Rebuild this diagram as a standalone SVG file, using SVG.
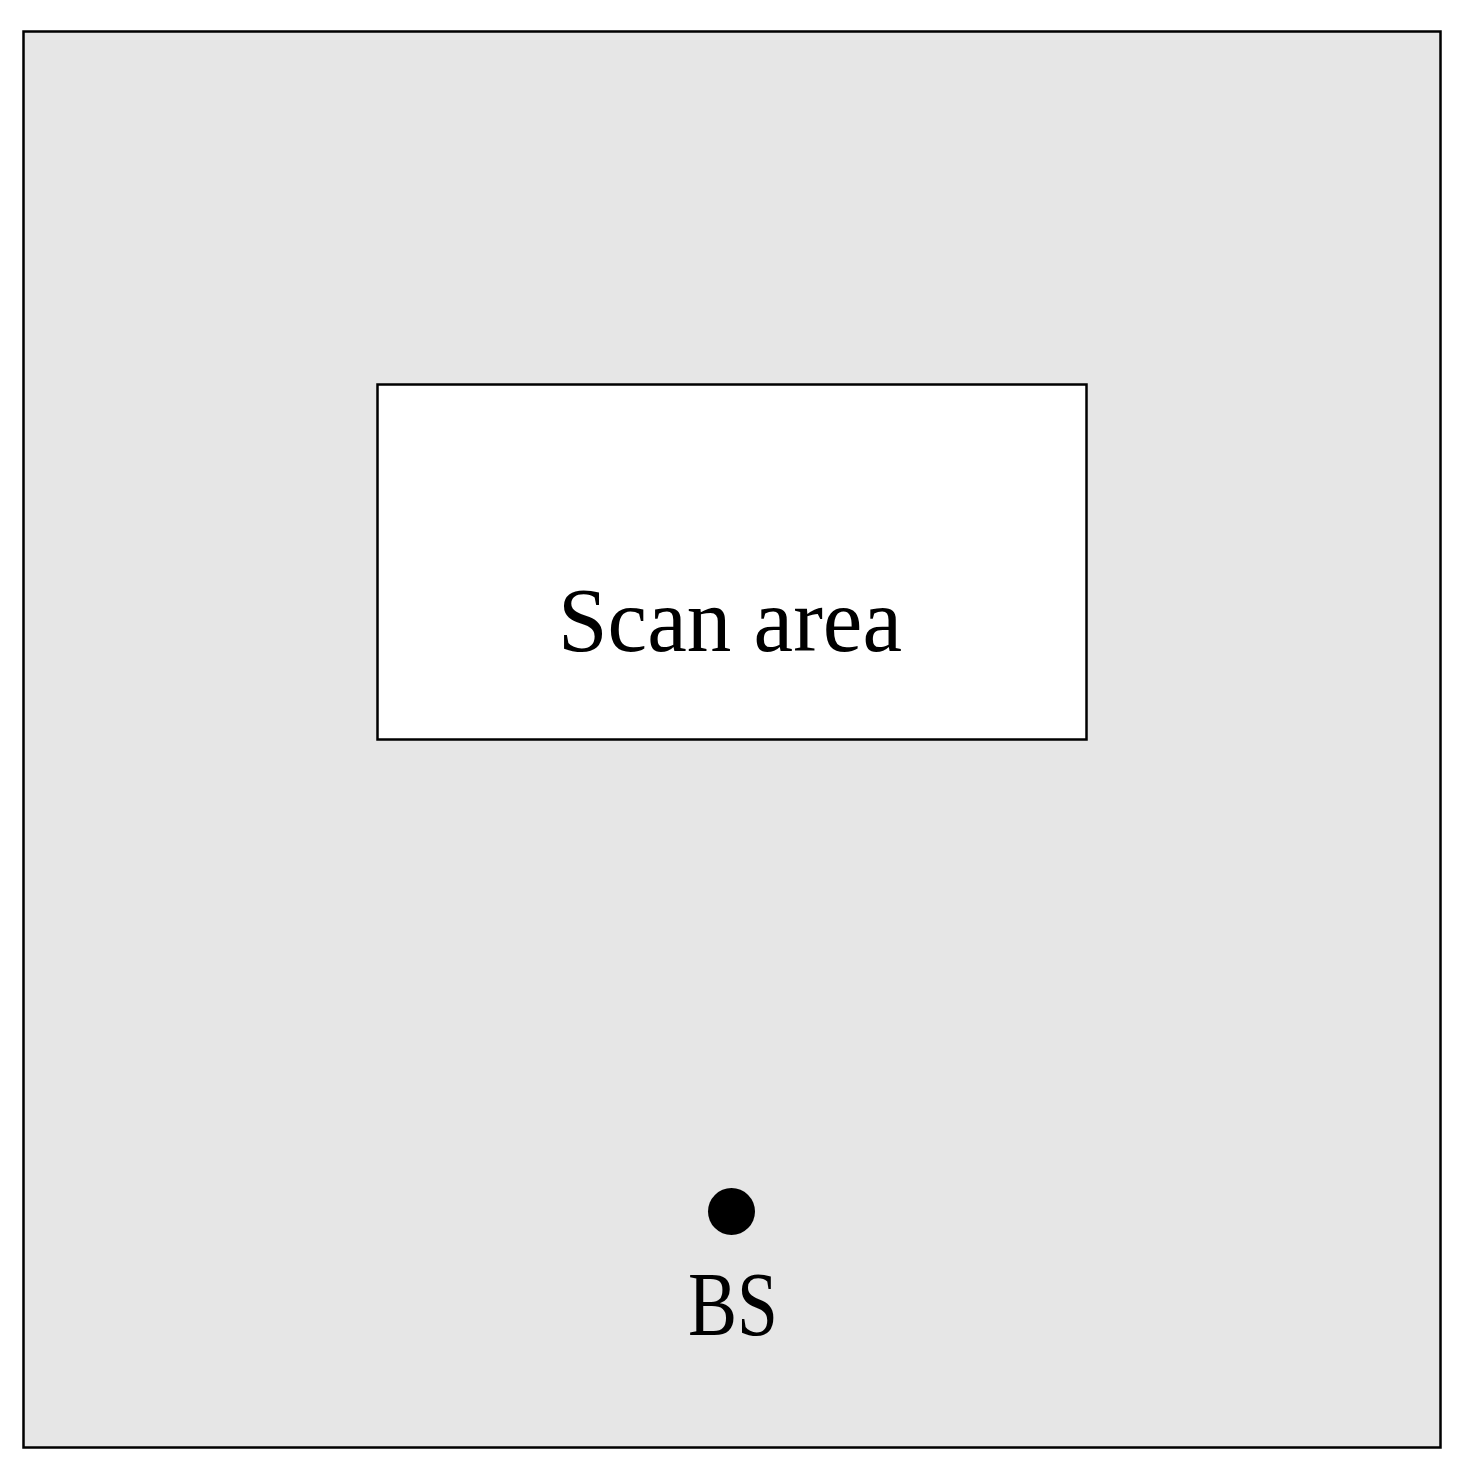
<svg xmlns="http://www.w3.org/2000/svg" width="1474" height="1480" viewBox="0 0 1474 1480">
<style>
.lbl{font-family:"Liberation Serif","DejaVu Serif",serif;fill:#000;text-anchor:middle}
</style>
<rect width="1474" height="1480" fill="#fff"/>
<g id="region">
<rect x="23.5" y="31.5" width="1417" height="1416" fill="#e6e6e6" stroke="#000" stroke-width="2.5"/>
</g>
<g id="scan-area">
<rect x="377.5" y="384.5" width="709" height="355" fill="#fff" stroke="#000" stroke-width="2.5"/>
<text class="lbl" x="730" y="651" font-size="90" textLength="344" lengthAdjust="spacingAndGlyphs">Scan area</text>
</g>
<g id="bs">
<circle cx="731.5" cy="1211.5" r="23.5" fill="#000"/>
<text class="lbl" x="733" y="1335" font-size="90" textLength="90" lengthAdjust="spacingAndGlyphs">BS</text>
</g>
<g id="connectors"/>
</svg>
